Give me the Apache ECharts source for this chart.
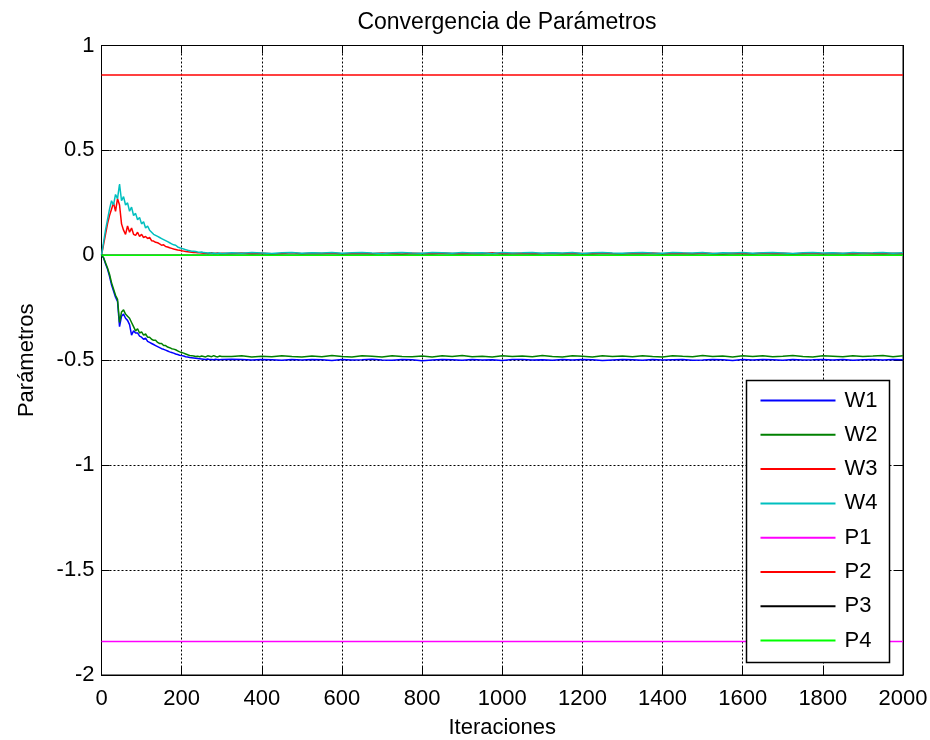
<!DOCTYPE html>
<html>
<head>
<meta charset="utf-8">
<script src="https://cdn.jsdelivr.net/npm/echarts@6/dist/echarts.min.js"></script>
<style>
  html, body { margin: 0; padding: 0; background: #fff; }
  #chart { width: 930px; height: 740px; }
</style>
</head>
<body>
<div id="chart"></div>
<script>
// Iteration samples: dense while the weights move, sparser once they settle
const ITER_EARLY = [0,5,10,15,20,25,30,35,40,45,50,55,60,65,70,75,80,85,90,95,
  100,105,110,115,120,125,130,135,140,145,150,155,160,165,170,175,180,185,190,195,
  200,205,210,215,220,225,230,235,240,245,250,255,260,265,270,275,280,285,290,295,300];
const ITER_LATE = [325,350,375,400,425,450,475,500,525,550,575,600,625,650,675,700,
  725,750,775,800,825,850,875,900,925,950,975,1000,1025,1050,1075,1100,1125,1150,
  1175,1200,1225,1250,1275,1300,1325,1350,1375,1400,1425,1450,1475,1500,1525,1550,
  1575,1600,1625,1650,1675,1700,1725,1750,1775,1800,1825,1850,1875,1900,1925,1950,
  1975,2000];

// Estimated weights
const W1_EARLY = [0,-0.012,-0.04,-0.065,-0.1,-0.14,-0.17,-0.2,-0.22,-0.34,
  -0.29,-0.28,-0.3,-0.31,-0.33,-0.38,-0.36,-0.37,-0.37,-0.385,
  -0.39,-0.4,-0.395,-0.41,-0.415,-0.42,-0.425,-0.43,-0.435,-0.44,
  -0.445,-0.448,-0.452,-0.456,-0.46,-0.463,-0.466,-0.47,-0.473,-0.476,
  -0.478,-0.48,-0.483,-0.485,-0.487,-0.488,-0.489,-0.49,-0.492,-0.493,
  -0.494,-0.495,-0.496,-0.494,-0.497,-0.496,-0.498,-0.495,-0.497,-0.498,-0.496];
const W1_LATE = [-0.495,-0.497,-0.499,-0.496,-0.498,-0.5,-0.497,-0.499,-0.496,-0.498,
  -0.501,-0.497,-0.499,-0.498,-0.495,-0.499,-0.5,-0.497,-0.498,-0.502,
  -0.499,-0.496,-0.498,-0.5,-0.497,-0.499,-0.498,-0.501,-0.497,-0.496,
  -0.499,-0.498,-0.5,-0.497,-0.499,-0.496,-0.498,-0.501,-0.499,-0.497,
  -0.498,-0.5,-0.496,-0.499,-0.498,-0.497,-0.5,-0.499,-0.497,-0.498,
  -0.501,-0.497,-0.499,-0.496,-0.498,-0.5,-0.497,-0.499,-0.498,-0.496,
  -0.499,-0.497,-0.5,-0.498,-0.496,-0.499,-0.497,-0.498];

const W2_EARLY = [0,-0.01,-0.035,-0.06,-0.09,-0.13,-0.16,-0.19,-0.21,-0.32,
  -0.27,-0.26,-0.28,-0.29,-0.3,-0.32,-0.34,-0.36,-0.35,-0.37,
  -0.365,-0.38,-0.375,-0.39,-0.39,-0.4,-0.405,-0.405,-0.415,-0.42,
  -0.42,-0.43,-0.43,-0.437,-0.44,-0.445,-0.447,-0.45,-0.455,-0.46,
  -0.463,-0.466,-0.47,-0.474,-0.477,-0.478,-0.48,-0.482,-0.481,-0.483,
  -0.48,-0.482,-0.484,-0.479,-0.481,-0.483,-0.478,-0.482,-0.484,-0.48,-0.482];
const W2_LATE = [-0.482,-0.479,-0.484,-0.481,-0.483,-0.478,-0.482,-0.485,-0.48,-0.483,
  -0.477,-0.482,-0.484,-0.479,-0.481,-0.484,-0.478,-0.482,-0.483,-0.48,
  -0.485,-0.479,-0.482,-0.477,-0.483,-0.481,-0.484,-0.478,-0.482,-0.48,
  -0.483,-0.477,-0.482,-0.484,-0.479,-0.481,-0.485,-0.478,-0.482,-0.48,
  -0.483,-0.479,-0.482,-0.484,-0.478,-0.481,-0.483,-0.477,-0.482,-0.48,
  -0.484,-0.479,-0.482,-0.478,-0.483,-0.481,-0.477,-0.482,-0.484,-0.479,
  -0.481,-0.483,-0.478,-0.482,-0.48,-0.477,-0.483,-0.479];

const W3_EARLY = [0,0.05,0.1,0.15,0.19,0.22,0.25,0.21,0.27,0.24,
  0.15,0.12,0.1,0.14,0.11,0.13,0.1,0.095,0.11,0.09,
  0.1,0.085,0.09,0.08,0.085,0.07,0.068,0.062,0.06,0.055,
  0.048,0.05,0.042,0.04,0.036,0.033,0.03,0.028,0.025,0.024,
  0.022,0.02,0.018,0.017,0.016,0.015,0.014,0.013,0.012,0.012,
  0.011,0.01,0.011,0.009,0.01,0.012,0.009,0.01,0.011,0.008,0.01];
const W3_LATE = [0.009,0.011,0.008,0.01,0.007,0.009,0.012,0.008,0.01,0.009,
  0.011,0.007,0.009,0.01,0.008,0.011,0.009,0.006,0.01,0.009,
  0.008,0.011,0.009,0.007,0.01,0.009,0.012,0.008,0.009,0.01,
  0.007,0.009,0.011,0.008,0.01,0.009,0.007,0.011,0.009,0.008,
  0.01,0.009,0.011,0.007,0.009,0.01,0.008,0.011,0.009,0.006,
  0.01,0.009,0.008,0.011,0.009,0.01,0.007,0.009,0.011,0.008,
  0.01,0.009,0.007,0.011,0.009,0.008,0.01,0.009];

const W4_EARLY = [0,0.06,0.12,0.17,0.22,0.26,0.24,0.29,0.27,0.34,
  0.26,0.28,0.24,0.25,0.21,0.23,0.19,0.2,0.17,0.18,
  0.15,0.16,0.13,0.14,0.12,0.11,0.1,0.095,0.09,0.085,
  0.08,0.075,0.07,0.065,0.06,0.055,0.05,0.048,0.04,0.036,
  0.033,0.03,0.027,0.024,0.022,0.02,0.019,0.018,0.016,0.015,
  0.016,0.013,0.012,0.011,0.012,0.01,0.011,0.009,0.01,0.011,0.009];
const W4_LATE = [0.012,0.01,0.013,0.011,0.009,0.012,0.014,0.01,0.012,0.011,
  0.013,0.01,0.012,0.014,0.011,0.009,0.012,0.013,0.011,0.01,
  0.013,0.012,0.01,0.014,0.011,0.012,0.009,0.013,0.011,0.012,
  0.014,0.01,0.012,0.011,0.013,0.009,0.012,0.014,0.011,0.01,
  0.012,0.013,0.011,0.01,0.014,0.012,0.011,0.013,0.009,0.012,
  0.011,0.014,0.01,0.012,0.013,0.011,0.009,0.012,0.014,0.011,
  0.012,0.01,0.013,0.011,0.012,0.014,0.01,0.012];

// Fixed parameters (constant over all iterations)
const P_NAMES = ['P1', 'P2', 'P3', 'P4'];
const P_VALUES = [-1.84, 0.86, 0, 0];
const P_SPAN = [0, 2000];

const COLORS = {
  W1: '#0000ff', W2: '#008000', W3: '#ff0000', W4: '#00bfbf',
  P1: '#ff00ff', P2: '#ff0000', P3: '#000000', P4: '#00ff00'
};

function pairs(xs, ys) {
  return xs.map((x, i) => [x, ys[i]]);
}

function lineSeries(name, data) {
  return {
    name,
    type: 'line',
    data,
    showSymbol: false,
    symbol: 'none',
    lineStyle: { color: COLORS[name], width: 1.5 },
    itemStyle: { color: COLORS[name] },
    animation: false
  };
}

const weightSeries = [
  ['W1', W1_EARLY, W1_LATE],
  ['W2', W2_EARLY, W2_LATE],
  ['W3', W3_EARLY, W3_LATE],
  ['W4', W4_EARLY, W4_LATE]
].map(([name, early, late]) =>
  lineSeries(name, pairs(ITER_EARLY, early).concat(pairs(ITER_LATE, late))));

const paramSeries = P_NAMES.map((name, i) =>
  lineSeries(name, P_SPAN.map(x => [x, P_VALUES[i]])));

const FONT = 'Liberation Sans, Arial, Helvetica, sans-serif';
const gridDots = { show: true, lineStyle: { color: '#000', width: 1, type: [2, 2] } };
const plainNumber = v => String(v);

const chart = echarts.init(document.getElementById('chart'), null, { renderer: 'canvas' });
chart.setOption({
  backgroundColor: '#fff',
  animation: false,
  title: {
    text: 'Convergencia de Parámetros',
    left: 502,
    textAlign: 'center',
    top: 6,
    textStyle: { fontFamily: FONT, fontSize: 23, fontWeight: 'normal', color: '#000' }
  },
  grid: {
    left: 101.5, right: 27, top: 45.5, bottom: 65,
    outerBoundsMode: 'none',
    containLabel: false,
    show: true, borderColor: '#000', borderWidth: 1, backgroundColor: 'transparent'
  },
  legend: {
    orient: 'vertical',
    left: 746.5,
    top: 380.5,
    icon: 'rect',
    itemWidth: 75,
    itemHeight: 2,
    itemGap: 12.3,
    padding: [9, 12, 11, 14],
    backgroundColor: '#fff',
    borderColor: '#000',
    borderWidth: 1.5,
    borderRadius: 0,
    selectedMode: false,
    data: ['W1', 'W2', 'W3', 'W4', 'P1', 'P2', 'P3', 'P4'],
    textStyle: { fontFamily: FONT, fontSize: 22, color: '#000', padding: [0, 0, 0, 4] }
  },
  xAxis: [{
    type: 'value', min: 0, max: 2000, interval: 200,
    name: 'Iteraciones', nameLocation: 'middle', nameGap: 42,
    nameTextStyle: { fontFamily: FONT, fontSize: 22, color: '#000' },
    axisLine: { show: true, onZero: false, lineStyle: { color: '#000', width: 1 } },
    axisTick: { show: true, inside: true, length: 8, lineStyle: { color: '#000' } },
    axisLabel: { fontFamily: FONT, fontSize: 22, color: '#000', margin: 13, formatter: plainNumber },
    splitLine: gridDots
  }, {
    type: 'value', min: 0, max: 2000, interval: 200, position: 'top',
    axisLine: { show: true, onZero: false, lineStyle: { color: '#000', width: 1 } },
    axisTick: { show: true, inside: true, length: 8, lineStyle: { color: '#000' } },
    axisLabel: { show: false },
    splitLine: { show: false }
  }],
  yAxis: [{
    type: 'value', min: -2, max: 1, interval: 0.5,
    name: 'Parámetros', nameLocation: 'middle', nameGap: 64, nameRotate: 90,
    nameTextStyle: { fontFamily: FONT, fontSize: 22, color: '#000' },
    axisLine: { show: true, onZero: false, lineStyle: { color: '#000', width: 1 } },
    axisTick: { show: true, inside: true, length: 8, lineStyle: { color: '#000' } },
    axisLabel: { fontFamily: FONT, fontSize: 22, color: '#000', margin: 7, formatter: plainNumber },
    splitLine: gridDots
  }, {
    type: 'value', min: -2, max: 1, interval: 0.5, position: 'right',
    axisLine: { show: true, onZero: false, lineStyle: { color: '#000', width: 1 } },
    axisTick: { show: true, inside: true, length: 8, lineStyle: { color: '#000' } },
    axisLabel: { show: false },
    splitLine: { show: false }
  }],
  series: weightSeries.concat(paramSeries)
});
</script>
</body>
</html>
